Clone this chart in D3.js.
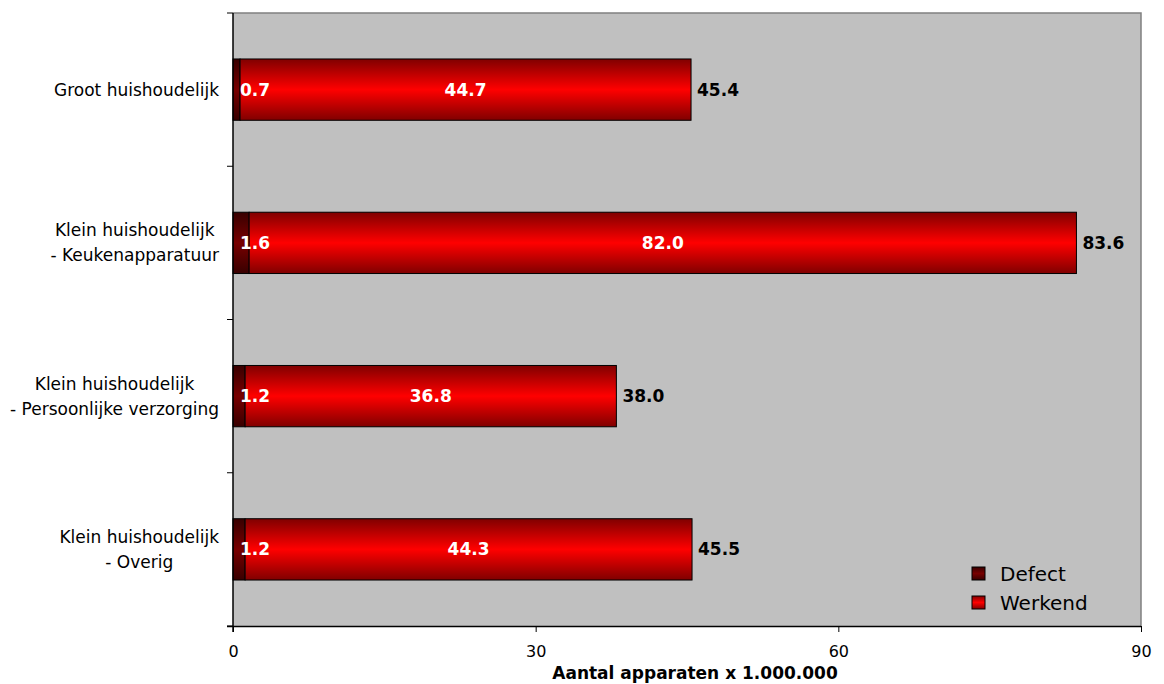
<!DOCTYPE html>
<html><head><meta charset="utf-8">
<script src="https://cdn.jsdelivr.net/npm/d3@7"></script>
<style>body{margin:0;background:#fff}svg{display:block}text{font-family:"DejaVu Sans",Verdana,sans-serif}</style>
</head><body>
<svg id="c" width="1164" height="684"></svg>
<script>
const categories = [["Groot huishoudelijk"],["Klein huishoudelijk","- Keukenapparatuur"],["Klein huishoudelijk","- Persoonlijke verzorging"],["Klein huishoudelijk","- Overig"]];
const defect = [0.7, 1.6, 1.2, 1.2];
const werkend = [44.7, 82.0, 36.8, 44.3];
const xTicks = [0, 30, 60, 90];
const seriesNames = ["Defect", "Werkend"];
const xTitle = "Aantal apparaten x 1.000.000";

const svg = d3.select("#c");
const L = 233, R = 1141, T = 13, B = 626;
const x = d3.scaleLinear().domain([0, 90]).range([L, R]);
const keys = categories.map((c, i) => i);
const y = d3.scaleBand().domain(keys).range([T, B]).paddingInner(0.6).paddingOuter(0.3);

const defs = svg.append("defs");
function grad(id, edge, mid) {
  const g = defs.append("linearGradient").attr("id", id).attr("x1", 0).attr("y1", 0).attr("x2", 0).attr("y2", 1);
  g.append("stop").attr("offset", "0%").attr("stop-color", edge);
  g.append("stop").attr("offset", "50%").attr("stop-color", mid);
  g.append("stop").attr("offset", "100%").attr("stop-color", edge);
}
grad("gD", "#380000", "#780000");
grad("gW", "#800000", "#ff0000");

svg.append("rect").attr("x", L).attr("y", T).attr("width", R - L).attr("height", B - T).attr("fill", "#c0c0c0");
svg.append("path").attr("d", `M${L},${T}H${R}V${B}`).attr("fill", "none").attr("stroke", "#808080").attr("stroke-width", 1.5);

// bars
const g = svg.append("g");
keys.forEach(i => {
  const y0 = y(i), h = y.bandwidth();
  g.append("rect").attr("x", x(0)).attr("y", y0).attr("width", x(defect[i]) - x(0)).attr("height", h)
    .attr("fill", "url(#gD)").attr("stroke", "#000").attr("stroke-width", 1);
  g.append("rect").attr("x", x(defect[i])).attr("y", y0).attr("width", x(defect[i] + werkend[i]) - x(defect[i])).attr("height", h)
    .attr("fill", "url(#gW)").attr("stroke", "#000").attr("stroke-width", 1);
  const cy = y0 + h / 2;
  g.append("text").attr("x", x(0) + 7).attr("y", cy).attr("dy", "0.36em").attr("fill", "#fff")
    .attr("font-weight", "bold").attr("font-size", 17).text(defect[i].toFixed(1));
  g.append("text").attr("x", x(defect[i] + werkend[i] / 2)).attr("y", cy).attr("dy", "0.36em").attr("fill", "#fff")
    .attr("text-anchor", "middle").attr("font-weight", "bold").attr("font-size", 17).text(werkend[i].toFixed(1));
  g.append("text").attr("x", x(defect[i] + werkend[i]) + 6).attr("y", cy).attr("dy", "0.36em").attr("fill", "#000")
    .attr("font-weight", "bold").attr("font-size", 17).text((defect[i] + werkend[i]).toFixed(1));
});

// x axis
const xa = svg.append("g").attr("transform", `translate(0,${B})`)
  .call(d3.axisBottom(x).tickValues(xTicks).tickSize(6).tickSizeOuter(0).tickPadding(14));
xa.select(".domain").attr("stroke", "#000").attr("stroke-width", 1.5).attr("d", `M${L - 6},0.5H${R}`);
xa.selectAll("text").attr("font-size", 16).attr("fill", "#000").style("font-family", '"DejaVu Sans",Verdana,sans-serif');
xa.selectAll(".tick line").attr("stroke", "#000");

// y axis line and ticks at band boundaries
svg.append("line").attr("x1", L).attr("x2", L).attr("y1", T).attr("y2", B + 6).attr("stroke", "#000").attr("stroke-width", 1.5);
const bounds = d3.range(keys.length + 1).map(k => T + k * (B - T) / keys.length);
svg.selectAll(".yt").data(bounds).enter().append("line").attr("x1", L - 6).attr("x2", L)
  .attr("y1", d => d).attr("y2", d => d).attr("stroke", "#000");

// category labels
keys.forEach(i => {
  const lines = categories[i];
  const t = svg.append("text").attr("font-size", 17).attr("fill", "#000").attr("text-anchor", "middle");
  const lh = 25;
  const cy = y(i) + y.bandwidth() / 2;
  lines.forEach((ln, k) => {
    t.append("tspan").attr("x", 0).attr("y", cy + (k - (lines.length - 1) / 2) * lh).attr("dy", "0.36em").text(ln);
  });
  let mw = 0;
  t.selectAll("tspan").each(function () { mw = Math.max(mw, this.getComputedTextLength()); });
  t.selectAll("tspan").attr("x", 219 - mw / 2);
});

// axis title
svg.append("text").attr("x", 695).attr("y", 679).attr("text-anchor", "middle").attr("font-weight", "bold")
  .attr("font-size", 17).text(xTitle);

// legend
const lg = svg.append("g");
seriesNames.forEach((n, k) => {
  const yy = 567 + k * 29;
  lg.append("rect").attr("x", 972).attr("y", yy).attr("width", 13).attr("height", 13)
    .attr("fill", k === 0 ? "url(#gD)" : "url(#gW)").attr("stroke", "#000");
  lg.append("text").attr("x", 1000).attr("y", yy + 6.5).attr("dy", "0.36em").attr("font-size", 20).text(n);
});
</script>
</body></html>
